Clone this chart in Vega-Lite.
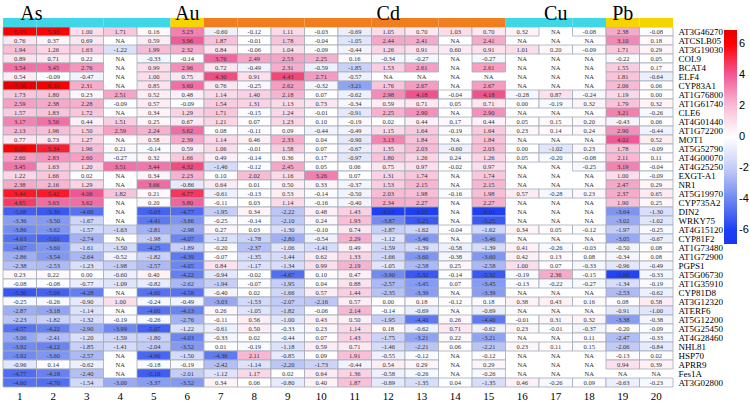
{
  "$schema": "https://vega.github.io/schema/vega-lite/v6.json",
  "width": 670,
  "height": 387,
  "padding": {"left": 2, "top": 0, "right": 0, "bottom": 0},
  "background": "white",
  "config": {
    "view": {"stroke": null},
    "locale": {"number": {"decimal": ".", "thousands": ",", "grouping": [3], "currency": ["$", ""], "minus": "-"}}
  },
  "datasets": {
    "hdr": [
      {"col": "c1", "grp": "As", "row": "_bar"}, {"col": "c2", "grp": "As", "row": "_bar"}, {"col": "c3", "grp": "As", "row": "_bar"}, {"col": "c4", "grp": "As", "row": "_bar"}, {"col": "c5", "grp": "As", "row": "_bar"},
      {"col": "c6", "grp": "Au", "row": "_bar"},
      {"col": "c7", "grp": "Cd", "row": "_bar"}, {"col": "c8", "grp": "Cd", "row": "_bar"}, {"col": "c9", "grp": "Cd", "row": "_bar"}, {"col": "c10", "grp": "Cd", "row": "_bar"}, {"col": "c11", "grp": "Cd", "row": "_bar"}, {"col": "c12", "grp": "Cd", "row": "_bar"}, {"col": "c13", "grp": "Cd", "row": "_bar"}, {"col": "c14", "grp": "Cd", "row": "_bar"}, {"col": "c15", "grp": "Cd", "row": "_bar"},
      {"col": "c16", "grp": "Cu", "row": "_bar"}, {"col": "c17", "grp": "Cu", "row": "_bar"}, {"col": "c18", "grp": "Cu", "row": "_bar"},
      {"col": "c19", "grp": "Pb", "row": "_bar"}, {"col": "c20", "grp": "Pb", "row": "_bar"}
    ],
    "lab1": [{"col": "c1", "grp": "As", "row": "_h2"}],
    "lab2": [
      {"col": "c6", "grp": "Au", "row": "_h2"},
      {"col": "c12", "grp": "Cd", "row": "_h2"},
      {"col": "c17", "grp": "Cu", "row": "_h2"},
      {"col": "c19", "grp": "Pb", "row": "_h2"}
    ],
    "cells": [
      {"g": "AT3G46270", "c1": 6.05, "c2": 5.96, "c3": 1.00, "c4": 1.71, "c5": 0.16, "c6": 3.23, "c7": -0.60, "c8": -0.12, "c9": 1.11, "c10": -0.03, "c11": -0.69, "c12": 1.05, "c13": 0.70, "c14": 1.03, "c15": 0.70, "c16": 0.32, "c17": null, "c18": -0.08, "c19": 2.38, "c20": -0.08},
      {"g": "ATCSLB05", "c1": 0.76, "c2": 0.37, "c3": 0.69, "c4": null, "c5": 0.59, "c6": 3.96, "c7": 1.87, "c8": -0.01, "c9": 1.78, "c10": -0.04, "c11": -1.05, "c12": 2.44, "c13": 2.41, "c14": null, "c15": 2.41, "c16": null, "c17": null, "c18": null, "c19": 3.10, "c20": 0.18},
      {"g": "AT3G19030", "c1": 1.94, "c2": 1.26, "c3": 1.63, "c4": -1.22, "c5": 1.99, "c6": 2.32, "c7": 0.84, "c8": -0.06, "c9": 1.04, "c10": -0.09, "c11": -0.44, "c12": 1.26, "c13": 0.91, "c14": 0.60, "c15": 0.91, "c16": 1.01, "c17": 0.20, "c18": -0.09, "c19": 1.71, "c20": 0.29},
      {"g": "COL9", "c1": 0.89, "c2": 0.71, "c3": 0.22, "c4": null, "c5": -0.33, "c6": -0.14, "c7": 3.76, "c8": 2.49, "c9": 2.53, "c10": 2.25, "c11": 0.16, "c12": -0.34, "c13": -0.27, "c14": null, "c15": -0.27, "c16": null, "c17": null, "c18": null, "c19": -0.22, "c20": 0.05},
      {"g": "BCAT4", "c1": 3.54, "c2": 3.45, "c3": 2.76, "c4": null, "c5": 0.99, "c6": 2.96, "c7": 0.72, "c8": -0.49, "c9": 2.31, "c10": -0.59, "c11": -1.85, "c12": 1.53, "c13": 2.61, "c14": null, "c15": 2.61, "c16": null, "c17": null, "c18": null, "c19": 1.55, "c20": 0.17},
      {"g": "ELF4", "c1": 0.54, "c2": -0.09, "c3": -0.47, "c4": null, "c5": 1.00, "c6": 0.75, "c7": 4.30, "c8": 0.91, "c9": 4.43, "c10": 2.71, "c11": -0.57, "c12": null, "c13": null, "c14": null, "c15": null, "c16": null, "c17": null, "c18": null, "c19": 1.81, "c20": -0.64},
      {"g": "CYP83A1", "c1": 7.30, "c2": 6.30, "c3": 2.31, "c4": null, "c5": 0.85, "c6": 3.60, "c7": 0.76, "c8": -0.25, "c9": 2.62, "c10": -0.32, "c11": -3.21, "c12": 1.76, "c13": 2.67, "c14": null, "c15": 2.67, "c16": null, "c17": null, "c18": null, "c19": 2.06, "c20": 0.06},
      {"g": "AT1G76800", "c1": 1.73, "c2": 1.80, "c3": 0.23, "c4": 2.51, "c5": 0.52, "c6": 0.48, "c7": 1.14, "c8": 1.40, "c9": 2.18, "c10": 0.07, "c11": -0.62, "c12": 2.98, "c13": 4.18, "c14": -0.04, "c15": 4.18, "c16": -0.28, "c17": 0.87, "c18": -0.24, "c19": 1.19, "c20": 0.00},
      {"g": "AT1G61740", "c1": 2.59, "c2": 2.38, "c3": 2.28, "c4": -0.09, "c5": 0.57, "c6": -0.09, "c7": 1.54, "c8": 1.31, "c9": 1.13, "c10": 0.73, "c11": -0.34, "c12": 0.59, "c13": 0.71, "c14": 0.05, "c15": 0.71, "c16": 0.00, "c17": -0.19, "c18": 0.32, "c19": 1.79, "c20": 0.32},
      {"g": "CLE6", "c1": 1.57, "c2": 1.83, "c3": 1.72, "c4": null, "c5": 0.34, "c6": 1.29, "c7": 1.71, "c8": -0.15, "c9": 1.24, "c10": -0.01, "c11": -0.91, "c12": 2.25, "c13": 2.90, "c14": null, "c15": 2.90, "c16": null, "c17": null, "c18": null, "c19": 3.21, "c20": -0.26},
      {"g": "AT4G01440", "c1": 3.17, "c2": 3.56, "c3": 0.44, "c4": 1.51, "c5": 0.25, "c6": 0.67, "c7": 1.21, "c8": 0.07, "c9": 1.23, "c10": 0.10, "c11": -0.19, "c12": 0.02, "c13": 0.44, "c14": 0.17, "c15": 0.44, "c16": 0.05, "c17": 0.15, "c18": 0.20, "c19": -0.43, "c20": 0.06},
      {"g": "AT1G72200", "c1": 2.13, "c2": 1.96, "c3": 1.50, "c4": 2.59, "c5": 2.24, "c6": 3.62, "c7": 0.08, "c8": -0.11, "c9": 0.09, "c10": -0.44, "c11": -0.49, "c12": 1.15, "c13": 1.64, "c14": -0.19, "c15": 1.64, "c16": 0.23, "c17": 0.14, "c18": 0.24, "c19": 2.90, "c20": -0.44},
      {"g": "MOT1", "c1": 0.77, "c2": 0.73, "c3": 1.27, "c4": null, "c5": 0.58, "c6": 2.39, "c7": 1.14, "c8": 0.46, "c9": 2.33, "c10": 0.04, "c11": -0.90, "c12": 3.13, "c13": 1.84, "c14": null, "c15": 1.84, "c16": null, "c17": null, "c18": null, "c19": 4.02, "c20": 0.52},
      {"g": "AT5G52790", "c1": 6.05, "c2": 5.34, "c3": 1.96, "c4": 0.21, "c5": -0.14, "c6": 0.59, "c7": 1.06, "c8": -0.01, "c9": 1.58, "c10": 0.07, "c11": -0.67, "c12": 1.35, "c13": 2.03, "c14": -0.60, "c15": 2.03, "c16": 0.00, "c17": -1.02, "c18": 0.23, "c19": 1.78, "c20": -0.09},
      {"g": "AT4G00070", "c1": 2.60, "c2": 2.83, "c3": 2.60, "c4": -0.27, "c5": 0.32, "c6": 1.66, "c7": 0.49, "c8": -0.14, "c9": 0.36, "c10": 0.17, "c11": -0.97, "c12": 1.80, "c13": 1.26, "c14": 0.24, "c15": 1.26, "c16": 0.05, "c17": -0.20, "c18": -0.08, "c19": 2.11, "c20": 0.11},
      {"g": "AT4G25250", "c1": 3.45, "c2": 1.63, "c3": 1.20, "c4": 3.51, "c5": 3.44, "c6": 4.32, "c7": -1.46, "c8": -0.12, "c9": 2.45, "c10": 0.05, "c11": 0.06, "c12": 0.75, "c13": 0.97, "c14": -0.02, "c15": 0.97, "c16": null, "c17": null, "c18": -0.25, "c19": 3.19, "c20": -0.04},
      {"g": "EXGT-A1", "c1": 1.22, "c2": 1.66, "c3": 0.02, "c4": null, "c5": 0.34, "c6": 2.23, "c7": 0.10, "c8": 2.02, "c9": 1.16, "c10": 3.26, "c11": 0.07, "c12": 1.31, "c13": 1.74, "c14": null, "c15": 1.74, "c16": null, "c17": null, "c18": null, "c19": 1.00, "c20": -0.09},
      {"g": "NR1", "c1": 2.38, "c2": 2.16, "c3": 1.29, "c4": null, "c5": 3.66, "c6": -0.86, "c7": 0.64, "c8": 0.01, "c9": 0.50, "c10": 0.33, "c11": -0.37, "c12": 1.53, "c13": 2.15, "c14": null, "c15": 2.15, "c16": null, "c17": null, "c18": null, "c19": 2.47, "c20": 0.29},
      {"g": "AT5G19970", "c1": 5.44, "c2": 5.42, "c3": 4.06, "c4": 1.82, "c5": 0.21, "c6": 4.77, "c7": -0.61, "c8": -0.13, "c9": 0.53, "c10": -0.14, "c11": -0.50, "c12": 2.03, "c13": 1.98, "c14": -0.16, "c15": 1.98, "c16": 0.57, "c17": -0.28, "c18": 0.23, "c19": 2.37, "c20": 0.65},
      {"g": "CYP735A2", "c1": 4.65, "c2": 3.63, "c3": 3.62, "c4": null, "c5": 0.20, "c6": 3.80, "c7": -0.11, "c8": 0.03, "c9": 1.14, "c10": -0.16, "c11": -0.40, "c12": 2.34, "c13": 2.27, "c14": null, "c15": 2.27, "c16": null, "c17": null, "c18": null, "c19": 1.90, "c20": 0.25},
      {"g": "DIN2", "c1": -5.08, "c2": -5.30, "c3": -4.60, "c4": null, "c5": -5.03, "c6": -4.77, "c7": -1.95, "c8": 0.34, "c9": -2.22, "c10": 0.48, "c11": 1.43, "c12": -6.01, "c13": -6.01, "c14": null, "c15": -6.01, "c16": null, "c17": null, "c18": null, "c19": -3.64, "c20": -1.30},
      {"g": "WRKY75", "c1": -3.36, "c2": -3.50, "c3": -1.67, "c4": null, "c5": -4.41, "c6": -3.66, "c7": -0.25, "c8": -0.14, "c9": -2.10, "c10": 0.24, "c11": 1.93, "c12": -3.87, "c13": -5.25, "c14": null, "c15": -5.25, "c16": null, "c17": null, "c18": null, "c19": -3.02, "c20": -1.02},
      {"g": "AT4G15120", "c1": -3.86, "c2": -3.62, "c3": -1.57, "c4": -1.63, "c5": -2.81, "c6": -2.98, "c7": 0.27, "c8": 0.03, "c9": -1.30, "c10": -0.10, "c11": 0.74, "c12": -1.87, "c13": -1.62, "c14": -0.04, "c15": -1.62, "c16": 0.34, "c17": 0.05, "c18": -0.12, "c19": -1.97, "c20": -0.25},
      {"g": "CYP81F2", "c1": -4.63, "c2": -5.01, "c3": -2.74, "c4": null, "c5": -1.98, "c6": -4.07, "c7": -1.22, "c8": -1.78, "c9": -2.80, "c10": -0.54, "c11": 2.29, "c12": -1.12, "c13": -3.46, "c14": null, "c15": -3.46, "c16": null, "c17": null, "c18": null, "c19": -3.05, "c20": -0.67},
      {"g": "AT1G73480", "c1": -4.07, "c2": -3.60, "c3": -1.61, "c4": -1.50, "c5": -4.25, "c6": -1.89, "c7": -0.20, "c8": -2.37, "c9": -1.06, "c10": -1.41, "c11": 0.49, "c12": -1.59, "c13": -1.39, "c14": -0.58, "c15": -1.39, "c16": 0.41, "c17": -0.26, "c18": -0.03, "c19": -0.50, "c20": 0.08},
      {"g": "AT1G72900", "c1": -2.86, "c2": -3.54, "c3": -2.64, "c4": -0.52, "c5": -1.82, "c6": -4.39, "c7": -0.07, "c8": -1.35, "c9": -1.44, "c10": 0.62, "c11": 1.33, "c12": -1.66, "c13": -3.60, "c14": -0.38, "c15": -3.60, "c16": 0.42, "c17": 0.13, "c18": 0.08, "c19": -0.34, "c20": 0.08},
      {"g": "PGPS1", "c1": -2.38, "c2": -2.53, "c3": -1.23, "c4": -1.98, "c5": -2.57, "c6": -4.05, "c7": 0.84, "c8": -1.17, "c9": -1.34, "c10": 0.99, "c11": 2.19, "c12": -1.05, "c13": -2.58, "c14": 0.25, "c15": -2.58, "c16": 1.00, "c17": 0.07, "c18": -0.33, "c19": -0.96, "c20": -0.49},
      {"g": "AT5G06730", "c1": 0.23, "c2": 0.22, "c3": 0.00, "c4": -0.60, "c5": 0.40, "c6": -4.22, "c7": -0.94, "c8": -0.02, "c9": -4.67, "c10": 0.10, "c11": 0.47, "c12": -3.90, "c13": -5.32, "c14": -0.14, "c15": -5.32, "c16": -0.19, "c17": 2.36, "c18": -0.15, "c19": -5.88, "c20": -0.33},
      {"g": "AT1G35910", "c1": -0.08, "c2": -0.08, "c3": -0.77, "c4": -1.09, "c5": -0.82, "c6": -2.62, "c7": -1.94, "c8": -0.07, "c9": -1.95, "c10": 0.04, "c11": 0.88, "c12": -2.57, "c13": -3.45, "c14": 0.07, "c15": -3.45, "c16": -0.13, "c17": -0.22, "c18": -0.27, "c19": -1.34, "c20": -0.19},
      {"g": "CYP81D8", "c1": -5.36, "c2": -5.06, "c3": -4.28, "c4": null, "c5": -4.60, "c6": -4.58, "c7": -0.40, "c8": 0.02, "c9": -1.66, "c10": 0.57, "c11": 1.44, "c12": -2.35, "c13": -3.39, "c14": null, "c15": -3.39, "c16": null, "c17": null, "c18": null, "c19": -2.53, "c20": -0.62},
      {"g": "AT3G12320", "c1": -0.25, "c2": -0.26, "c3": -0.90, "c4": 1.00, "c5": -0.24, "c6": -0.49, "c7": -3.03, "c8": -1.53, "c9": -2.07, "c10": -2.16, "c11": 0.57, "c12": 0.00, "c13": 0.18, "c14": -0.12, "c15": 0.18, "c16": 0.38, "c17": 0.43, "c18": 0.16, "c19": 0.08, "c20": 0.58},
      {"g": "ATERF6", "c1": -2.87, "c2": -3.18, "c3": -1.14, "c4": null, "c5": -4.60, "c6": -4.13, "c7": 0.26, "c8": -1.05, "c9": -1.82, "c10": -0.06, "c11": 2.14, "c12": -0.14, "c13": -0.69, "c14": null, "c15": -0.69, "c16": null, "c17": null, "c18": null, "c19": -0.91, "c20": -1.00},
      {"g": "AT5G12200", "c1": -2.23, "c2": -1.82, "c3": -1.32, "c4": -0.19, "c5": -0.26, "c6": -2.76, "c7": -0.11, "c8": 0.56, "c9": -1.00, "c10": 0.43, "c11": 0.50, "c12": -1.95, "c13": -4.40, "c14": 0.26, "c15": -4.40, "c16": -0.01, "c17": 0.31, "c18": 0.32, "c19": -3.38, "c20": -0.38},
      {"g": "AT5G25450", "c1": -4.57, "c2": -4.22, "c3": -2.90, "c4": -3.99, "c5": -5.07, "c6": -1.22, "c7": -0.61, "c8": 0.50, "c9": -0.33, "c10": 0.23, "c11": 1.14, "c12": 0.18, "c13": -0.62, "c14": 0.71, "c15": -0.62, "c16": 0.23, "c17": -0.01, "c18": -0.37, "c19": -0.20, "c20": -0.09},
      {"g": "AT4G28460", "c1": -3.06, "c2": -2.41, "c3": -1.20, "c4": -1.59, "c5": -1.80, "c6": -4.03, "c7": -0.33, "c8": 0.02, "c9": -0.44, "c10": 0.07, "c11": 1.43, "c12": -1.75, "c13": -3.21, "c14": 0.22, "c15": -3.21, "c16": null, "c17": null, "c18": 0.11, "c19": -2.47, "c20": -0.33},
      {"g": "NHL81", "c1": -3.92, "c2": -4.12, "c3": -1.85, "c4": -1.41, "c5": -2.04, "c6": -3.52, "c7": 0.01, "c8": -0.19, "c9": -1.18, "c10": 0.59, "c11": 0.71, "c12": -1.46, "c13": -2.21, "c14": 0.06, "c15": -2.21, "c16": 0.23, "c17": 0.11, "c18": 0.15, "c19": -2.06, "c20": -0.84},
      {"g": "HSP70", "c1": -3.92, "c2": -3.60, "c3": -2.57, "c4": null, "c5": -4.90, "c6": -1.50, "c7": -4.36, "c8": 2.11, "c9": -0.85, "c10": 0.09, "c11": 1.91, "c12": -0.55, "c13": -0.12, "c14": null, "c15": -0.12, "c16": null, "c17": null, "c18": null, "c19": -0.13, "c20": 0.02},
      {"g": "APRR9", "c1": -0.96, "c2": 0.14, "c3": -0.62, "c4": null, "c5": -0.18, "c6": -0.19, "c7": -2.42, "c8": -1.14, "c9": -2.20, "c10": -1.73, "c11": -0.44, "c12": 0.54, "c13": 0.29, "c14": null, "c15": 0.29, "c16": null, "c17": null, "c18": null, "c19": 0.94, "c20": 0.39},
      {"g": "Fes1A", "c1": -4.77, "c2": -4.18, "c3": -2.40, "c4": null, "c5": -5.16, "c6": -2.01, "c7": -1.12, "c8": 1.17, "c9": 0.02, "c10": 0.64, "c11": 1.36, "c12": -0.58, "c13": -0.26, "c14": null, "c15": -0.26, "c16": null, "c17": null, "c18": null, "c19": null, "c20": null},
      {"g": "AT3G02800", "c1": -4.60, "c2": -4.70, "c3": -1.54, "c4": -3.00, "c5": -3.37, "c6": -3.52, "c7": 0.34, "c8": 0.06, "c9": -0.80, "c10": 0.40, "c11": 1.87, "c12": -0.89, "c13": -1.35, "c14": 0.04, "c15": -1.35, "c16": 0.46, "c17": -0.26, "c18": 0.09, "c19": -0.63, "c20": -0.23}
    ]
  },
  "resolve": {"scale": {"color": "independent"}},
  "layer": [
    {
      "data": {"name": "cells"},
      "transform": [{"fold": ["c1","c2","c3","c4","c5","c6","c7","c8","c9","c10","c11","c12","c13","c14","c15","c16","c17","c18","c19","c20"], "as": ["col", "v"]}],
      "mark": {"type": "rect", "stroke": "#a3abb8", "strokeWidth": 0.8},
      "encoding": {
        "x": {"field": "col", "type": "ordinal",
              "scale": {"domain": ["c1","c2","c3","c4","c5","c6","c7","c8","c9","c10","c11","c12","c13","c14","c15","c16","c17","c18","c19","c20"], "paddingInner": 0, "paddingOuter": 0},
              "axis": {"orient": "bottom", "title": null, "labelAngle": 0, "domain": false, "ticks": false, "labelPadding": 3, "labelFont": "Liberation Serif", "labelFontSize": 11, "labelColor": "#000", "labelExpr": "replace(datum.value, 'c', '')"}},
        "y": {"field": "g", "type": "ordinal",
              "scale": {"domain": ["_h1","_h2","_bar","AT3G46270","ATCSLB05","AT3G19030","COL9","BCAT4","ELF4","CYP83A1","AT1G76800","AT1G61740","CLE6","AT4G01440","AT1G72200","MOT1","AT5G52790","AT4G00070","AT4G25250","EXGT-A1","NR1","AT5G19970","CYP735A2","DIN2","WRKY75","AT4G15120","CYP81F2","AT1G73480","AT1G72900","PGPS1","AT5G06730","AT1G35910","CYP81D8","AT3G12320","ATERF6","AT5G12200","AT5G25450","AT4G28460","NHL81","HSP70","APRR9","Fes1A","AT3G02800"], "paddingInner": 0, "paddingOuter": 0},
              "axis": {"orient": "right", "title": null, "domain": false, "ticks": false, "labelPadding": 5, "labelFont": "Liberation Serif", "labelFontSize": 9, "labelColor": "#000", "labelExpr": "indexof(datum.value, '_') == 0 ? '' : datum.value"}},
        "color": {
          "condition": {"test": "datum.v === null", "value": "#cdd8d4"},
          "field": "v", "type": "quantitative",
          "scale": {"domain": [-6.9, -6, -4, -2, 0, 2, 4, 6, 6.9], "range": ["#1a36f0", "#1d3ff5", "#6e88f1", "#c5cdf7", "#ffffff", "#f8bdd6", "#f05a97", "#ff0000", "#e60000"], "clamp": true, "interpolate": "rgb"},
          "legend": {"orient": "none", "legendX": 721, "legendY": 30, "title": null, "direction": "vertical", "gradientLength": 214, "gradientThickness": 13, "values": [-6, -4, -2, 0, 2, 4, 6], "format": "d", "labelFont": "Liberation Sans", "labelFontSize": 11, "labelColor": "#000", "gradientStrokeWidth": 0}
        }
      }
    },
    {
      "data": {"name": "cells"},
      "transform": [{"fold": ["c1","c2","c3","c4","c5","c6","c7","c8","c9","c10","c11","c12","c13","c14","c15","c16","c17","c18","c19","c20"], "as": ["col", "v"]}],
      "mark": {"type": "text", "font": "Liberation Sans Narrow", "fontSize": 6.5, "color": "#333333", "baseline": "middle"},
      "encoding": {
        "x": {"field": "col", "type": "ordinal"},
        "y": {"field": "g", "type": "ordinal"},
        "text": {"condition": {"test": "datum.v === null", "value": "NA"}, "field": "v", "type": "quantitative", "format": ".2f"}
      }
    },
    {
      "data": {"name": "hdr"},
      "mark": {"type": "rect"},
      "encoding": {
        "x": {"field": "col", "type": "ordinal"},
        "y": {"field": "row", "type": "ordinal"},
        "color": {"field": "grp", "type": "nominal", "scale": {"domain": ["As", "Au", "Cd", "Cu", "Pb"], "range": ["#3fd6e8", "#f6d400", "#f07d1e", "#3fd6e8", "#f6d400"]}, "legend": null}
      }
    },
    {
      "data": {"name": "lab1"},
      "mark": {"type": "text", "font": "Liberation Serif", "fontSize": 20, "color": "#000", "baseline": "middle"},
      "encoding": {
        "x": {"field": "col", "type": "ordinal", "bandPosition": 0.85},
        "y": {"field": "row", "type": "ordinal"},
        "text": {"field": "grp"}
      }
    },
    {
      "data": {"name": "lab2"},
      "mark": {"type": "text", "font": "Liberation Serif", "fontSize": 20, "color": "#000", "baseline": "middle"},
      "encoding": {
        "x": {"field": "col", "type": "ordinal"},
        "y": {"field": "row", "type": "ordinal"},
        "text": {"field": "grp"}
      }
    }
  ]
}
